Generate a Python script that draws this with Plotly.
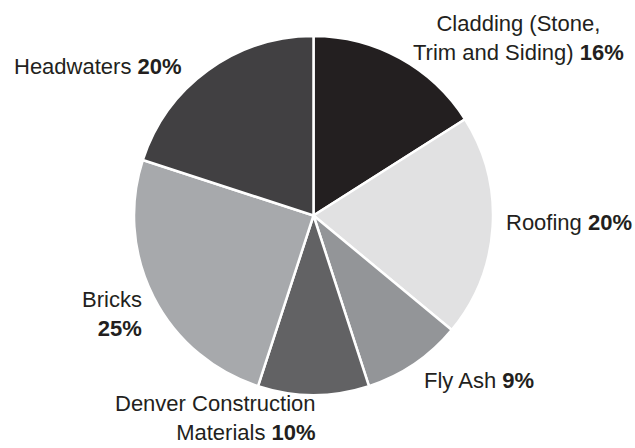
import plotly.graph_objects as go

# Data
categories = ["Cladding (Stone, Trim and Siding)", "Roofing", "Fly Ash",
              "Denver Construction Materials", "Bricks", "Headwaters"]
values = [16, 20, 9, 10, 25, 20]
# Label text as shown (line breaks)
label_text = ["Cladding (Stone,<br>Trim and Siding)", "Roofing", "Fly Ash",
              "Denver Construction<br>Materials", "Bricks<br>", "Headwaters"]

colors = ["#231f20", "#e1e1e2", "#939598", "#626264", "#a7a9ac", "#414042"]

W, H = 635, 448
cx, cy, r = 313.5, 215.5, 179.5

fig = go.Figure(go.Pie(
    labels=categories, values=values, sort=False, direction="clockwise",
    rotation=0, textinfo="none", hoverinfo="label+percent",
    marker=dict(colors=colors, line=dict(color="white", width=2.5)),
    domain=dict(x=[(cx - r) / W, (cx + r) / W],
                y=[(H - cy - r) / H, (H - cy + r) / H]),
    showlegend=False,
))

# annotation placement (pixel coords: x, y-center, anchor, align)
placements = [
    (518, 38, "center", "center"),
    (505, 223, "left", "left"),
    (423, 380, "left", "left"),
    (317, 418, "right", "right"),
    (143, 313.5, "right", "right"),
    (13, 67, "left", "left"),
]

for txt, v, (px, py, xa, al) in zip(label_text, values, placements):
    fig.add_annotation(
        x=px / W, y=(H - py) / H, xref="paper", yref="paper",
        text=f"{txt} <b>{v}%</b>", showarrow=False,
        xanchor=xa, yanchor="middle", align=al, borderpad=0,
        font=dict(family="Liberation Sans, Arial, sans-serif", size=22, color="#231f20"),
    )

fig.update_layout(
    width=W, height=H, margin=dict(l=0, r=0, t=0, b=0),
    paper_bgcolor="white", plot_bgcolor="white",
)

fig.write_html("out.html", config={"displayModeBar": False},
               post_script="document.body.style.margin='0';document.body.style.overflow='hidden';")
